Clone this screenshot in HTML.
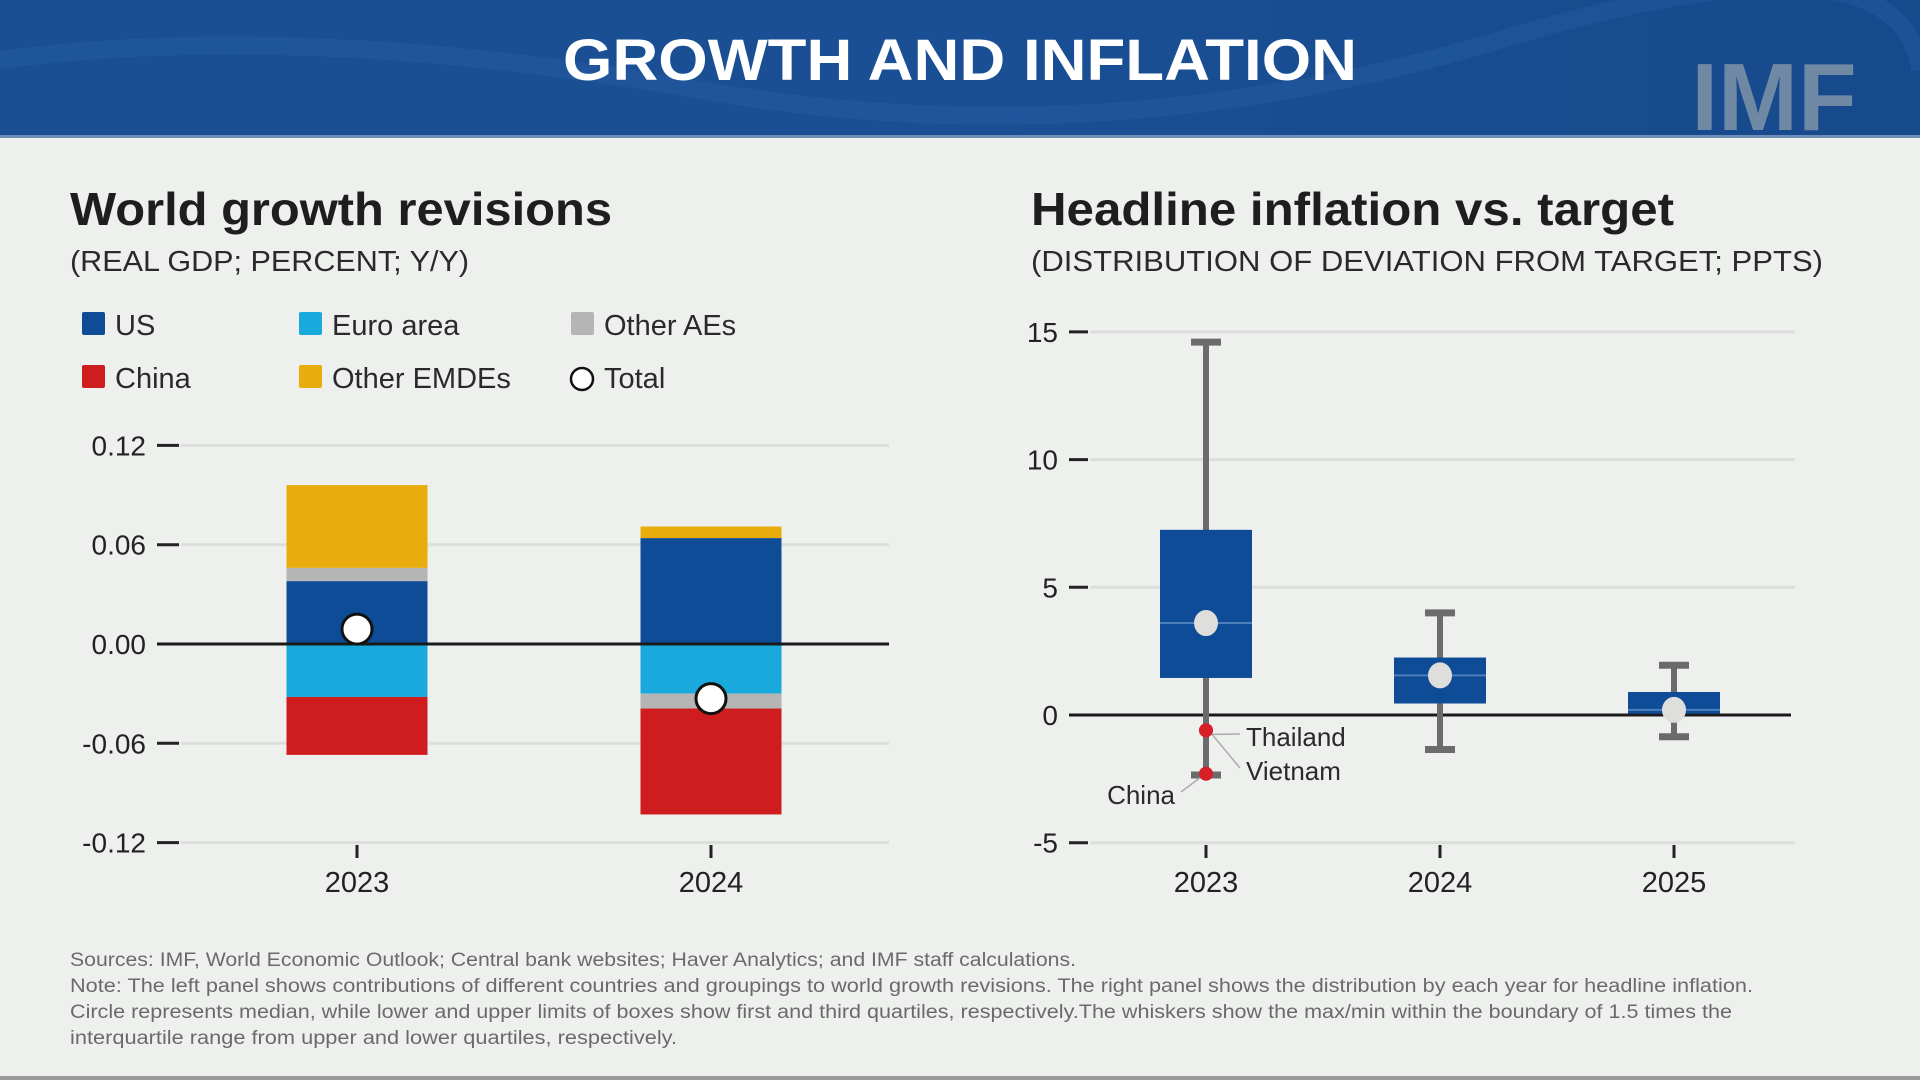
<!DOCTYPE html>
<html><head><meta charset="utf-8"><style>
html,body{margin:0;padding:0;background:#eef0ee;}
svg{display:block;font-family:"Liberation Sans",sans-serif;}
</style></head><body>
<svg id="page" width="1920" height="1080" viewBox="0 0 1920 1080">
<defs>
<linearGradient id="hdr" x1="0" y1="0" x2="1" y2="0">
<stop offset="0" stop-color="#1a4f93"/><stop offset="0.5" stop-color="#1b4f95"/><stop offset="1" stop-color="#164a8c"/>
</linearGradient>
</defs>
<rect x="0" y="0" width="1920" height="1080" fill="#eef0ee"/>
<g>
<rect x="0" y="0" width="1920" height="137" fill="url(#hdr)"/>
<path d="M0 60 Q300 20 700 90 T1500 40 T1920 70" stroke="#2a62a8" stroke-width="18" fill="none" opacity="0.35"/>
<rect x="0" y="135" width="1920" height="3" fill="#6f8fb8"/>
<text x="563" y="80" textLength="794" lengthAdjust="spacingAndGlyphs" font-size="58" font-weight="bold" fill="#ffffff">GROWTH AND INFLATION</text>
<text x="1774" y="130" text-anchor="middle" font-size="96" font-weight="bold" fill="#7f93a8" opacity="0.85">IMF</text>
</g>

<text x="70" y="225" textLength="542" lengthAdjust="spacingAndGlyphs" font-size="46" font-weight="bold" fill="#1e1e1e">World growth revisions</text>
<text x="70" y="271" textLength="399" lengthAdjust="spacingAndGlyphs" font-size="29" fill="#2a2a2a">(REAL GDP; PERCENT; Y/Y)</text>

<g id="legend"></g>
<g id="left"></g>

<text x="1031" y="225" textLength="643" lengthAdjust="spacingAndGlyphs" font-size="46" font-weight="bold" fill="#1e1e1e">Headline inflation vs. target</text>
<text x="1031" y="271" textLength="792" lengthAdjust="spacingAndGlyphs" font-size="29" fill="#2a2a2a">(DISTRIBUTION OF DEVIATION FROM TARGET; PPTS)</text>
<g id="right"></g>

<g fill="#6a6a6a" font-size="19">
<text x="70" y="966" textLength="1006" lengthAdjust="spacingAndGlyphs">Sources: IMF, World Economic Outlook; Central bank websites; Haver Analytics; and IMF staff calculations.</text>
<text x="70" y="992" textLength="1683" lengthAdjust="spacingAndGlyphs">Note: The left panel shows contributions of different countries and groupings to world growth revisions. The right panel shows the distribution by each year for headline inflation.</text>
<text x="70" y="1018" textLength="1662" lengthAdjust="spacingAndGlyphs">Circle represents median, while lower and upper limits of boxes show first and third quartiles, respectively.The whiskers show the max/min within the boundary of 1.5 times the</text>
<text x="70" y="1044" textLength="607" lengthAdjust="spacingAndGlyphs">interquartile range from upper and lower quartiles, respectively.</text>
</g>
<rect x="0" y="1076" width="1920" height="4" fill="#9a9a9a"/>
</svg>
<script>
const NS="http://www.w3.org/2000/svg";
function mk(tag,attrs,parent){const e=document.createElementNS(NS,tag);for(const k in attrs)e.setAttribute(k,attrs[k]);parent.appendChild(e);return e;}

// ---------- Left chart data ----------
const growthYears=["2023","2024"];
const seriesNames=["US","Euro area","Other AEs","China","Other EMDEs"];
const seriesColors=["#0f4c97","#1aa9dc","#b5b5b5","#cf1d1f","#e8ad0c"];
const usVals=[0.038,0.064];
const euroVals=[-0.032,-0.030];
const otherAEVals=[0.008,-0.009];
const chinaVals=[-0.035,-0.064];
const otherEMDEVals=[0.050,0.007];
const totalVals=[0.009,-0.033];
const growthTicks=[0.12,0.06,0.00,-0.06,-0.12];
const growthTickLabels=["0.12","0.06","0.00","-0.06","-0.12"];

// legend
const leg=document.getElementById('legend');
const legItems=[["US",0],["Euro area",1],["Other AEs",2],["China",3],["Other EMDEs",4],["Total",-1]];
legItems.forEach((it,i)=>{
  const col=i%3,row=Math.floor(i/3);
  const x=[82,299,571][col], y=[324,377][row];
  const g=mk('g',{},leg);
  
  
  if(it[1]>=0) mk('rect',{x:x,y:y-12,width:23,height:23,fill:seriesColors[it[1]],rx:2},g);
  else mk('circle',{cx:x+11,cy:y+2,r:11,fill:"#fff",stroke:"#111","stroke-width":2.5},g);
  const t=mk('text',{x:x+33,y:y+11,"font-size":29,fill:"#2a2a2a"},g);
  t.textContent=it[0];
});

const L=document.getElementById('left');
const gx0=181,gx1=889;
function gy(v){return 644-v/0.06*99.3;}
const gcx=[357,711];
growthTicks.forEach((v,i)=>{
  if(v!==0){const gl=mk('line',{x1:gx0,x2:gx1,y1:gy(v),y2:gy(v),stroke:"#dcdedc","stroke-width":3},L);
    }
  mk('line',{x1:157,x2:179,y1:gy(v),y2:gy(v),stroke:"#222","stroke-width":3},L);
  const t=mk('text',{x:146,y:gy(v)+10,"text-anchor":"end","font-size":28,fill:"#222"},L);
  
  t.textContent=growthTickLabels[i];
});
const bw=141;
growthYears.forEach((yr,i)=>{
  const vals=[usVals[i],euroVals[i],otherAEVals[i],chinaVals[i],otherEMDEVals[i]];
  const order=[0,1,2,3,4];
  let pos=0,neg=0;
  order.forEach(k=>{
    const v=vals[k];let a,b;
    if(v>=0){a=pos;b=pos+v;pos=b;}else{a=neg;b=neg+v;neg=b;}
    const r=mk('rect',{x:gcx[i]-bw/2,y:gy(Math.max(a,b)),width:bw,height:Math.abs(gy(a)-gy(b)),fill:seriesColors[k]},L);
    
    
  });
  mk('line',{x1:gcx[i],x2:gcx[i],y1:845,y2:858,stroke:"#222","stroke-width":3},L);
  const t=mk('text',{x:gcx[i],y:892,"text-anchor":"middle","font-size":29,fill:"#222"},L);
  
  t.textContent=yr;
});
const zl=mk('line',{x1:157,x2:gx1,y1:gy(0),y2:gy(0),stroke:"#1a1a1a","stroke-width":3},L);

growthYears.forEach((yr,i)=>{
  const c=mk('circle',{cx:gcx[i],cy:gy(totalVals[i]),r:15,fill:"#fff",stroke:"#111","stroke-width":3},L);
  
});

// ---------- Right chart data ----------
const inflYears=["2023","2024","2025"];
const whiskerMax=[14.6,4.0,1.95];
const q3Vals=[7.25,2.25,0.9];
const medianVals=[3.6,1.55,0.2];
const q1Vals=[1.45,0.45,0.05];
const whiskerMin=[-2.35,-1.35,-0.85];
const outlierNames=["Thailand","Vietnam","China"];
const outlierVals=[-0.6,-0.6,-2.3];
const inflTicks=[15,10,5,0,-5];
const inflTickLabels=["15","10","5","0","-5"];

const R=document.getElementById('right');
const rx0=1090,rx1=1795;
function ry(v){return 715-v/5*127.7;}
const rcx=[1206,1440,1674];
inflTicks.forEach((v,i)=>{
  if(v!==0){const gl=mk('line',{x1:rx0,x2:rx1,y1:ry(v),y2:ry(v),stroke:"#dcdedc","stroke-width":3},R);
    }
  mk('line',{x1:1069,x2:1088,y1:ry(v),y2:ry(v),stroke:"#222","stroke-width":3},R);
  const t=mk('text',{x:1058,y:ry(v)+10,"text-anchor":"end","font-size":28,fill:"#222"},R);
  
  t.textContent=inflTickLabels[i];
});
const zr=mk('line',{x1:1069,x2:rx1-4,y1:ry(0),y2:ry(0),stroke:"#1a1a1a","stroke-width":3},R);

const boxW=92;
inflYears.forEach((yr,i)=>{
  const cx=rcx[i];
  const g=mk('g',{},R);
  
  mk('line',{x1:cx,x2:cx,y1:ry(whiskerMax[i]),y2:ry(whiskerMin[i]),stroke:"#6b6b6b","stroke-width":6},g);
  mk('line',{x1:cx-15,x2:cx+15,y1:ry(whiskerMax[i]),y2:ry(whiskerMax[i]),stroke:"#6b6b6b","stroke-width":7},g);
  mk('line',{x1:cx-15,x2:cx+15,y1:ry(whiskerMin[i]),y2:ry(whiskerMin[i]),stroke:"#6b6b6b","stroke-width":7},g);
  mk('rect',{x:cx-boxW/2,y:ry(q3Vals[i]),width:boxW,height:ry(q1Vals[i])-ry(q3Vals[i]),fill:"#0f4c97"},g);
  mk('line',{x1:cx-boxW/2,x2:cx+boxW/2,y1:ry(medianVals[i]),y2:ry(medianVals[i]),stroke:"#4d7fba","stroke-width":2},g);
  mk('ellipse',{cx:cx,cy:ry(medianVals[i]),rx:12,ry:13,fill:"#dedfdd"},g);
  mk('line',{x1:cx,x2:cx,y1:845,y2:858,stroke:"#222","stroke-width":3},R);
  const t=mk('text',{x:cx,y:892,"text-anchor":"middle","font-size":29,fill:"#222"},R);
  
  t.textContent=yr;
});
// outliers & labels (2023)
const labelPos=[[1246,746,"start"],[1246,780,"start"],[1175,804,"end"]];
outlierNames.forEach((n,i)=>{
  const cy=ry(outlierVals[i]);
  const c=mk('circle',{cx:rcx[0],cy:cy,r:7,fill:"#d61f26"},R);
  
  const lp=labelPos[i];
  const lx=lp[2]==="start"?lp[0]-6:lp[0]+6;
  mk('line',{x1:rcx[0]+(lp[2]==="start"?6:-6),y1:cy+4,x2:lx,y2:lp[1]-12,stroke:"#aaa","stroke-width":1.5},R);
  const t=mk('text',{x:lp[0],y:lp[1],"text-anchor":lp[2],"font-size":26,fill:"#2a2a2a"},R);
  
  t.textContent=n;
});
</script>
</body></html>
